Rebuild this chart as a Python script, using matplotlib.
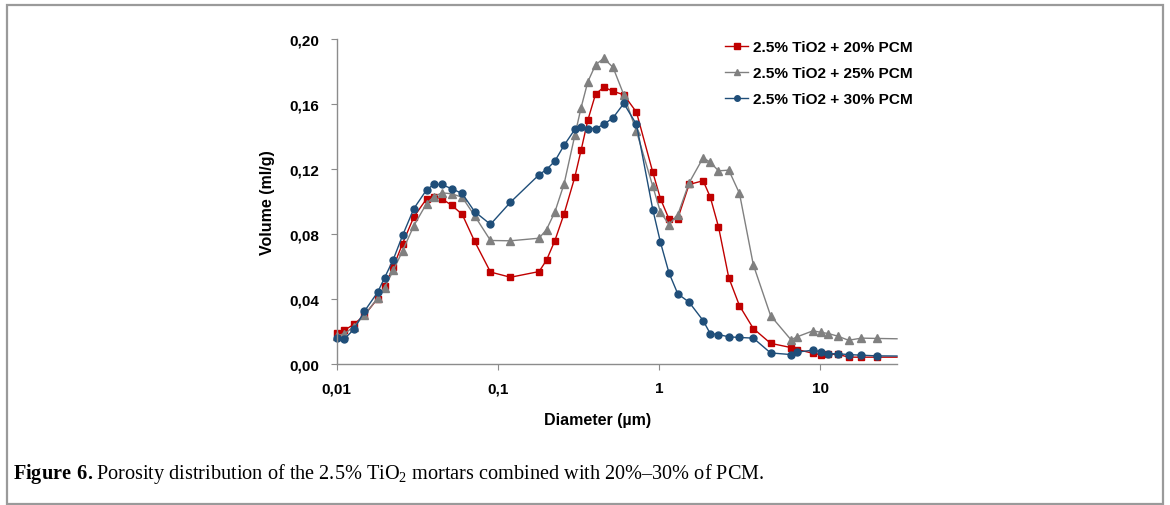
import numpy as np
import matplotlib.pyplot as plt
from matplotlib.patches import Rectangle
from matplotlib.ticker import FixedLocator, NullLocator

plt.rcParams['font.family'] = 'Liberation Sans'
plt.rcParams['mathtext.fontset'] = 'custom'
plt.rcParams['mathtext.rm'] = 'Liberation Serif'
plt.rcParams['mathtext.bf'] = 'Liberation Serif:bold'

# Pore diameter (um) - last value is the curve end at the axis edge (no marker)
diameter = [0.0100, 0.0112, 0.0128, 0.0149, 0.0180, 0.0199, 0.0225, 0.0257, 0.0302, 0.0362,
            0.0401, 0.0450, 0.0517, 0.0602, 0.0718, 0.0902, 0.1200, 0.1806, 0.2008, 0.2261,
            0.2582, 0.3008, 0.3292, 0.3623, 0.4045, 0.4551, 0.5197, 0.6058, 0.7262, 0.9166,
            1.023, 1.155, 1.310, 1.539, 1.881, 2.081, 2.343, 2.714, 3.162, 3.852,
            4.932, 6.598, 7.198, 9.037, 10.06, 11.27, 12.88, 15.01, 18.06, 22.57, 30.0]

pcm20 = [0.0192, 0.0208, 0.0243, 0.0300, 0.0402, 0.0480, 0.0595, 0.0740, 0.0904, 0.1015,
         0.1029, 0.1015, 0.0976, 0.0920, 0.0755, 0.0565, 0.0533, 0.0568, 0.0638, 0.0757,
         0.0923, 0.1148, 0.1314, 0.1498, 0.1658, 0.1701, 0.1676, 0.1654, 0.1547, 0.1178,
         0.1015, 0.0891, 0.0894, 0.1103, 0.1126, 0.1027, 0.0843, 0.0530, 0.0358, 0.0218,
         0.0127, 0.0101, 0.0089, 0.0066, 0.0057, 0.0060, 0.0060, 0.0042, 0.0042, 0.0042, 0.0042]

pcm25 = [0.0175, 0.0185, 0.0230, 0.0300, 0.0405, 0.0470, 0.0575, 0.0695, 0.0850, 0.0986,
         0.1027, 0.1052, 0.1046, 0.1025, 0.0912, 0.0759, 0.0757, 0.0773, 0.0826, 0.0933,
         0.1107, 0.1404, 0.1576, 0.1734, 0.1838, 0.1879, 0.1822, 0.1654, 0.1429, 0.1092,
         0.0933, 0.0857, 0.0917, 0.1113, 0.1267, 0.1240, 0.1187, 0.1191, 0.1048, 0.0610,
         0.0297, 0.0149, 0.0167, 0.0204, 0.0195, 0.0187, 0.0171, 0.0146, 0.0159, 0.0157, 0.0155]

pcm30 = [0.0161, 0.0155, 0.0212, 0.0324, 0.0441, 0.0531, 0.0642, 0.0790, 0.0955, 0.1070,
         0.1103, 0.1103, 0.1077, 0.1048, 0.0937, 0.0858, 0.0994, 0.1163, 0.1195, 0.1246,
         0.1344, 0.1441, 0.1455, 0.1447, 0.1447, 0.1472, 0.1513, 0.1601, 0.1472, 0.0949,
         0.0747, 0.0560, 0.0431, 0.0380, 0.0267, 0.0187, 0.0181, 0.0167, 0.0163, 0.0159,
         0.0068, 0.0058, 0.0073, 0.0085, 0.0075, 0.0063, 0.0063, 0.0058, 0.0054, 0.0050, 0.0049]

labels = ['2.5% TiO2 + 20% PCM', '2.5% TiO2 + 25% PCM', '2.5% TiO2 + 30% PCM']
x_ticks = [0.01, 0.1, 1, 10]
x_ticklabels = ['0,01', '0,1', '1', '10']
y_ticks = [0.00, 0.04, 0.08, 0.12, 0.16, 0.20]
y_ticklabels = ['0,00', '0,04', '0,08', '0,12', '0,16', '0,20']

fig = plt.figure(figsize=(11.7, 5.06), dpi=100)
ax = fig.add_axes([336.5 / 1170, 1 - 365 / 506, (897 - 336.5) / 1170, (365 - 39.5) / 506])

styles = [('#C00000', 's', 4.8), ('#808080', '^', 5.2), ('#1F4E79', 'o', 5.0)]
n = len(diameter)
for vals, lab, (c, m, ms) in zip([pcm20, pcm25, pcm30], labels, styles):
    ax.plot(diameter, vals, color=c, lw=1.0, marker=m, markersize=ms,
            markeredgecolor=c, markerfacecolor=c, markevery=list(range(n - 1)),
            label=lab, clip_on=False)

ax.set_xscale('log')
ax.set_xlim(0.01, 30.0)
ax.set_ylim(0, 0.20)
ax.xaxis.set_major_locator(FixedLocator(x_ticks))
ax.xaxis.set_minor_locator(NullLocator())
ax.set_xticklabels(x_ticklabels)
ax.set_yticks(y_ticks)
ax.set_yticklabels(y_ticklabels)

for s in ['top', 'right']:
    ax.spines[s].set_visible(False)
for s in ['left', 'bottom']:
    ax.spines[s].set_color('#8c8c8c')
    ax.spines[s].set_linewidth(1.0)
ax.tick_params(axis='both', colors='#8c8c8c', length=4.5, width=0.8, labelcolor='black',
               labelsize=11)
ax.tick_params(axis='x', pad=8)
ax.tick_params(axis='y', pad=8)
for t in ax.get_xticklabels() + ax.get_yticklabels():
    t.set_fontweight('bold')

ax.set_xlabel('Diameter (\u00b5m)', fontsize=11.5, fontweight='bold')
ax.set_ylabel('Volume (ml/g)', fontsize=11.5, fontweight='bold')
ax.xaxis.set_label_coords(0.466, -0.147)
ax.yaxis.set_label_coords(-0.110, 0.5)

leg = ax.legend(loc='upper left', bbox_to_anchor=(722 / 1170, 1 - 38 / 506),
                bbox_transform=fig.transFigure, frameon=False, fontsize=11.1,
                handlelength=1.5, handletextpad=0.3, labelspacing=0.78, markerscale=0.8,
                borderaxespad=0, borderpad=0.2)
for t in leg.get_texts():
    t.set_fontweight('bold')

# caption
caption = (r'$\mathbf{Figure\ 6.}$Porosity distribution of the 2.5% TiO$_2$ mortars combined with 20%'
           + '\u2013' + '30% of PCM.')
fig.text(13 / 1170, 1 - 479 / 506, caption, family='Liberation Serif', fontsize=14.6,
         va='baseline')

# figure frame
fig.patches.append(Rectangle((7 / 1170, 1 / 506), (1163 - 7) / 1170, (505 - 6) / 506,
                             transform=fig.transFigure, fill=False,
                             edgecolor='#9a9a9a', lw=1.6))

plt.savefig('out.png', dpi=100)
